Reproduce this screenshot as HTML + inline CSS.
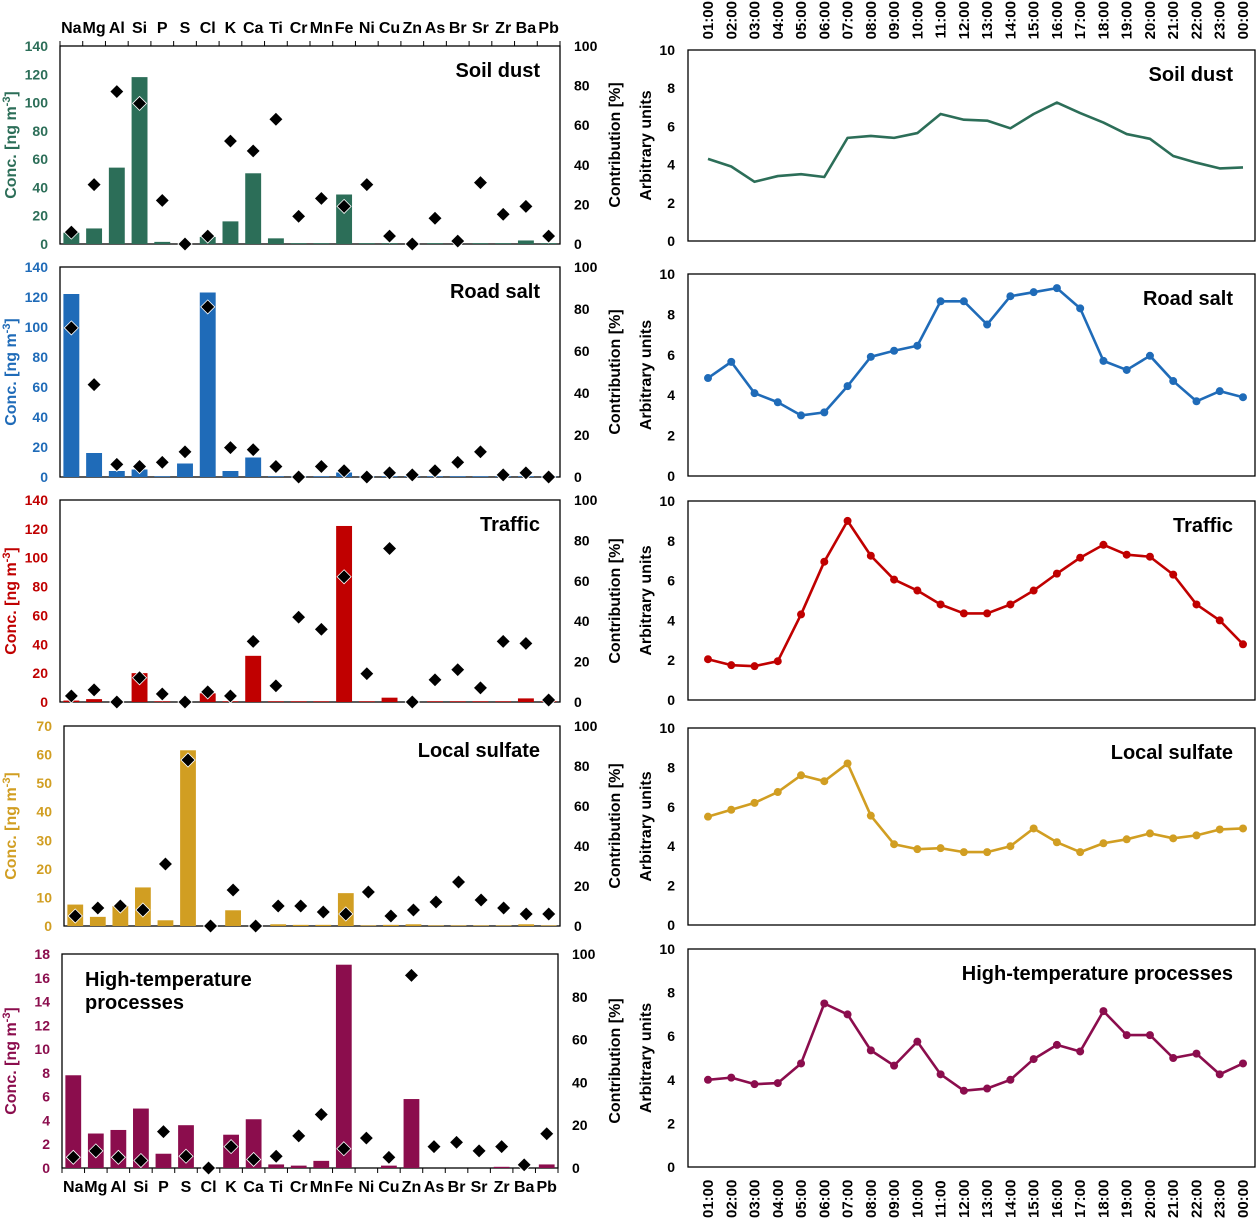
<!DOCTYPE html>
<html><head><meta charset="utf-8">
<style>
html,body{margin:0;padding:0;background:#fff;}
svg{display:block;font-family:"Liberation Sans",Arial,sans-serif;font-weight:bold;}
</style></head>
<body>
<svg id="chart" width="1259" height="1218" viewBox="0 0 1259 1218" xmlns="http://www.w3.org/2000/svg"></svg>
<script>
const elements = ["Na","Mg","Al","Si","P","S","Cl","K","Ca","Ti","Cr","Mn","Fe","Ni","Cu","Zn","As","Br","Sr","Zr","Ba","Pb"];
const hours = ["01:00","02:00","03:00","04:00","05:00","06:00","07:00","08:00","09:00","10:00","11:00","12:00","13:00","14:00","15:00","16:00","17:00","18:00","19:00","20:00","21:00","22:00","23:00","00:00"];
const panelNames = ["Soil dust","Road salt","Traffic","Local sulfate","High-temperature processes"];
const concMax = [140,140,140,70,18];
const concTicks = [[0,20,40,60,80,100,120,140],[0,20,40,60,80,100,120,140],[0,20,40,60,80,100,120,140],[0,10,20,30,40,50,60,70],[0,2,4,6,8,10,12,14,16,18]];
const contribTicks = [0,20,40,60,80,100];
const timeTicks = [0,2,4,6,8,10];

const concSoil = [8,11,54,118,1.5,0,5,16,50,4,0.6,0.6,35,0.6,0.6,0,0.6,0,0.6,0.6,2.5,0.6];
const contribSoil = [6,30,77,71,22,0,4,52,47,63,14,23,19,30,4,0,13,1.5,31,15,19,4];
const concRoad = [122,16,4,5,0.5,9,123,4,13,0.5,0.5,0.5,3,0.5,0.5,0.5,0.5,0.5,0.5,0.5,0.5,0.5];
const contribRoad = [71,44,6,5,7,12,81,14,13,5,0,5,3,0,2,1,3,7,12,1,2,0];
const concTraffic = [1,2,0,20,0.5,0,6,0.5,32,0.5,0.5,0.5,122,0.5,3,0,0.5,0.5,0.5,0.5,2.5,0.5];
const contribTraffic = [3,6,0,12,4,0,5,3,30,8,42,36,62,14,76,0,11,16,7,30,29,1];
const concSulfate = [7.5,3.2,7,13.5,2,61.5,0,5.5,0,0.6,0.4,0.4,11.5,0.2,0.4,0.6,0.2,0.2,0.2,0.2,0.6,0.2];
const contribSulfate = [5,9,10,8,31,83,0,18,0,10,10,7,6,17,5,8,12,22,13,9,6,6];
const concHighT = [7.8,2.9,3.2,5.0,1.2,3.6,0,2.8,4.1,0.3,0.2,0.6,17.1,0,0.2,5.8,0,0,0,0.1,0,0.3];
const contribHighT = [5,8,5,3.5,17,5.5,0,10,4,5.5,15,25,9,14,5,90,10,12,8,10,1.5,16];

const diurnalSoil = [4.3,3.9,3.1,3.4,3.5,3.35,5.4,5.5,5.4,5.65,6.65,6.35,6.3,5.9,6.65,7.25,6.7,6.2,5.6,5.35,4.45,4.1,3.8,3.85];
const diurnalRoad = [4.85,5.65,4.1,3.65,3.0,3.15,4.45,5.9,6.2,6.45,8.65,8.65,7.5,8.9,9.1,9.3,8.3,5.7,5.25,5.95,4.7,3.7,4.2,3.9];
const diurnalTraffic = [2.05,1.75,1.7,1.95,4.3,6.95,9.0,7.25,6.05,5.5,4.8,4.35,4.35,4.8,5.5,6.35,7.15,7.8,7.3,7.2,6.3,4.8,4.0,2.8];
const diurnalSulfate = [5.5,5.85,6.2,6.75,7.6,7.3,8.2,5.55,4.1,3.85,3.9,3.7,3.7,4.0,4.9,4.2,3.7,4.15,4.35,4.65,4.4,4.55,4.85,4.9];
const diurnalHighT = [4.0,4.1,3.8,3.85,4.75,7.5,7.0,5.35,4.65,5.75,4.25,3.5,3.6,4.0,4.95,5.6,5.3,7.15,6.05,6.05,5.0,5.2,4.25,4.75];

const concs=[concSoil,concRoad,concTraffic,concSulfate,concHighT];
const contribs=[contribSoil,contribRoad,contribTraffic,contribSulfate,contribHighT];
const diurnals=[diurnalSoil,diurnalRoad,diurnalTraffic,diurnalSulfate,diurnalHighT];
const colors=["#2c6e58","#1f6bb8","#c00000","#d19e22","#8b0d4d"];
const slugs=["soil-dust","road-salt","traffic","local-sulfate","high-temperature"];
const LP=[{x0:60,x1:560,t:46,b:244},{x0:60,x1:560,t:267,b:477},{x0:60,x1:560,t:500,b:702},{x0:64,x1:560,t:726,b:926},{x0:62,x1:558,t:954,b:1168}];
const RP=[{t:50,b:241},{t:274,b:476},{t:501,b:700},{t:728,b:925},{t:949,b:1167}];
const RX0=688,RX1=1255,HX0=708,HX1=1243;
const NS="http://www.w3.org/2000/svg";
const svg=document.getElementById('chart');
function mk(tag,attrs,parent){const e=document.createElementNS(NS,tag);for(const k in attrs)e.setAttribute(k,attrs[k]);(parent||svg).appendChild(e);return e;}
function txt(s,attrs,parent){const e=mk('text',attrs,parent);e.textContent=s;return e;}

for(let p=0;p<5;p++){
  const g=mk('g',{});
  
  
  const L=LP[p],col=colors[p];
  const n=elements.length,cw=(L.x1-L.x0)/n;
  const xc=i=>L.x0+cw*(i+0.5);
  const yc=v=>L.b-(v/concMax[p])*(L.b-L.t);
  const yr=v=>L.b-(v/100)*(L.b-L.t);
  const box=mk('rect',{x:L.x0,y:L.t,width:L.x1-L.x0,height:L.b-L.t,fill:'none',stroke:'#000','stroke-width':1.3},g);
  
  
  concTicks[p].forEach(v=>{
    const t=txt(String(v),{x:L.x0-12,y:yc(v)+5,'text-anchor':'end','font-size':14,fill:col},g);
    
    
  });
  contribTicks.forEach(v=>{
    const t=txt(String(v),{x:L.x1+14,y:yr(v)+5,'font-size':14,fill:'#000'},g);
    
    
  });
  const my=(L.t+L.b)/2;
  const yt=txt('',{x:0,y:0,'font-size':16,fill:col,transform:`translate(16,${my}) rotate(-90)`,'text-anchor':'middle'},g);
  yt.innerHTML='Conc. [ng m<tspan dy="-6" font-size="11">-3</tspan><tspan dy="6">]</tspan>';
  
  
  const rt=txt('Contribution [%]',{x:0,y:0,'font-size':16,fill:'#000',transform:`translate(620,${my}) rotate(-90)`,'text-anchor':'middle'},g);
  
  
  concs[p].forEach((v,i)=>{
    const y=yc(v);
    const r=mk('rect',{x:xc(i)-cw*0.35,y:y,width:cw*0.7,height:L.b-y,fill:col},g);
    
    
  });
  contribs[p].forEach((v,i)=>{
    const x=xc(i),y=yr(v),s=7;
    const d=mk('polygon',{points:`${x},${y-s} ${x+s},${y} ${x},${y+s} ${x-s},${y}`,fill:'#000',stroke:'#fff','stroke-width':0.8},g);
    
    
  });
  if(p===4){
    const t1=txt('High-temperature',{x:85,y:986,'font-size':20,fill:'#000'},g);
    
    
    const t2=txt('processes',{x:85,y:1009,'font-size':20,fill:'#000'},g);
    
    
  } else {
    const t=txt(panelNames[p],{x:L.x1-20,y:L.t+31,'font-size':20,fill:'#000','text-anchor':'end'},g);
    
    
  }
  if(p===0||p===4){
    const ly=p===0?33:1192, ty=p===0?L.t:L.b, dir=p===0?-1:1;
    elements.forEach((e,i)=>{
      const t=txt(e,{x:xc(i),y:ly,'font-size':16,fill:'#000','text-anchor':'middle'},g);
      
      
    });
    for(let i=0;i<=n;i++){
      const x=L.x0+cw*i;
      mk('line',{x1:x,x2:x,y1:ty,y2:ty+dir*5,stroke:'#000','stroke-width':1},g);
    }
  }

  const g2=mk('g',{});
  
  
  const R=RP[p];
  const hx=i=>HX0+(HX1-HX0)*i/(hours.length-1);
  const hy=v=>R.b-(v/10)*(R.b-R.t);
  const box2=mk('rect',{x:RX0,y:R.t,width:RX1-RX0,height:R.b-R.t,fill:'none',stroke:'#000','stroke-width':1.3},g2);
  
  
  timeTicks.forEach(v=>{
    const t=txt(String(v),{x:675,y:hy(v)+5,'font-size':14,fill:'#000','text-anchor':'end'},g2);
    
    
  });
  const at=txt('Arbitrary units',{x:0,y:0,'font-size':16,fill:'#000',transform:`translate(651,${(R.t+R.b)/2}) rotate(-90)`,'text-anchor':'middle'},g2);
  
  
  const pts=diurnals[p].map((v,i)=>hx(i)+','+hy(v)).join(' ');
  const pl=mk('polyline',{points:pts,fill:'none',stroke:colors[p],'stroke-width':2.6,'stroke-linejoin':'round'},g2);
  
  
  if(p>0){
    diurnals[p].forEach((v,i)=>{
      const c=mk('circle',{cx:hx(i),cy:hy(v),r:4,fill:colors[p]},g2);
      
      
    });
  }
  const tt=txt(panelNames[p],{x:1233,y:R.t+31,'font-size':20,fill:'#000','text-anchor':'end'},g2);
  
  
  if(p===0||p===4){
    hours.forEach((h,i)=>{
      const x=hx(i)+5;
      const t=p===0
        ? txt(h,{x:0,y:0,'font-size':15,fill:'#000','text-anchor':'end',transform:`translate(${x},1) rotate(-90)`},g2)
        : txt(h,{x:0,y:0,'font-size':15,fill:'#000','text-anchor':'start',transform:`translate(${x},1218) rotate(-90)`},g2);
      
      
    });
  }
}
</script>
</body></html>
